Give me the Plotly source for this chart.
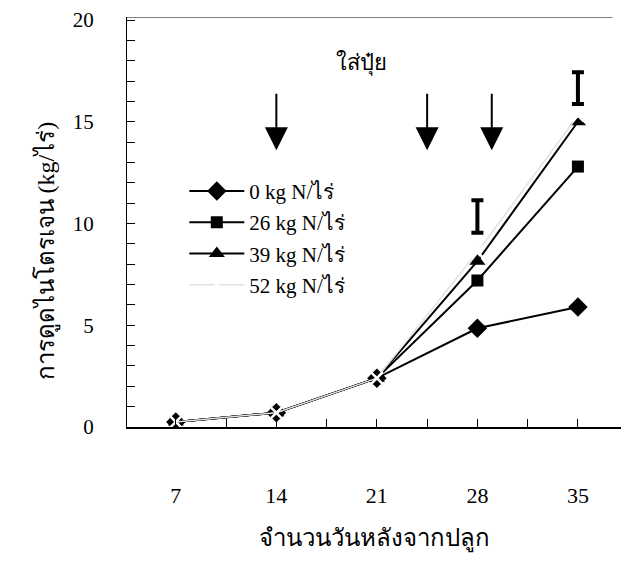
import plotly.graph_objects as go

days = [7, 14, 21, 28, 35]
n0 = [0.25, 0.7, 2.4, 4.85, 5.9]
n26 = [0.25, 0.7, 2.4, 7.2, 12.8]
n39 = [0.25, 0.7, 2.4, 8.15, 15.0]
n52 = [0.25, 0.7, 2.4, 8.6, 15.3]
names = ["0 kg N/ไร่", "26 kg N/ไร่", "39 kg N/ไร่", "52 kg N/ไร่"]

lsd_days = [28, 35]
lsd_center = [10.35, 16.65]
lsd_half = [0.8, 0.78]

fert_days = [14, 24.5, 29]
arrow_tip = 13.6
arrow_tail = 16.45

SERIF = "Liberation Serif"

fig = go.Figure()
fig.add_trace(go.Scatter(x=days, y=n0, name=names[0], legendgroup="a", mode="lines+markers",
                         line=dict(color="black", width=2),
                         marker=dict(symbol="diamond", size=15, color="black")))
fig.add_trace(go.Scatter(x=days, y=n26, name=names[1], legendgroup="b", mode="lines+markers",
                         line=dict(color="black", width=2),
                         marker=dict(symbol="square", size=12, color="black")))
fig.add_trace(go.Scatter(x=days, y=n39, name=names[2], legendgroup="c", mode="lines+markers",
                         line=dict(color="black", width=2),
                         marker=dict(symbol="triangle-up", size=14, color="black")))
fig.add_trace(go.Scatter(x=days, y=n52, name=names[3], legendgroup="d", mode="lines+markers",
                         line=dict(color="#e2e2e2", width=1.5),
                         marker=dict(symbol="x-thin", size=12, color="white",
                                     line=dict(color="white", width=2.5))))
fig.add_trace(go.Scatter(x=lsd_days, y=lsd_center, mode="markers", showlegend=False,
                         marker=dict(size=1, color="rgba(0,0,0,0)"),
                         error_y=dict(type="data", array=lsd_half, color="black",
                                      thickness=4, width=6)))

for d in fert_days:
    fig.add_annotation(x=d, y=arrow_tip, ax=d, ay=arrow_tail, xref="x", yref="y",
                       axref="x", ayref="y", showarrow=True, arrowhead=2,
                       arrowwidth=2, arrowsize=2.3, arrowcolor="black", text="")
fig.add_annotation(x=19.9, y=17.9, xref="x", yref="y", text="ใส่ปุ๋ย", showarrow=False,
                   font=dict(size=22, color="black"))
fig.add_annotation(x=-0.196, y=0.43, xref="paper", yref="paper", text="การดูดไนโตรเจน (kg/ไร่)",
                   textangle=-90, showarrow=False, font=dict(size=24, color="black"))

fig.add_shape(type="line", xref="x", yref="y", x0=3.6, x1=37.4, y0=20.15, y1=20.15,
              line=dict(color="black", width=1))

fig.update_layout(
    width=621, height=564,
    margin=dict(l=127, r=0, t=17, b=137),
    plot_bgcolor="white", paper_bgcolor="white",
    font=dict(family=SERIF, color="black", size=20),
    legend=dict(x=0.116, y=0.625, xanchor="left", yanchor="top",
                bgcolor="rgba(0,0,0,0)", font=dict(size=21, family=SERIF),
                traceorder="grouped", tracegroupgap=1, itemwidth=55),
    xaxis=dict(range=[3.6, 38], tickvals=days, ticks="inside", ticklen=8,
               tickcolor="black", showline=True, linecolor="black", linewidth=1.5,
               showgrid=False, zeroline=False, ticklabelstandoff=48,
               tickfont=dict(size=22, family=SERIF),
               minor=dict(tickvals=[10.5, 17.5, 24.5, 31.5], ticks="inside", ticklen=8,
                          tickcolor="black"),
               title=dict(text="จำนวนวันหลังจากปลูก", font=dict(size=24), standoff=22)),
    yaxis=dict(range=[0, 20.15], tickvals=[0, 5, 10, 15, 20], ticks="inside", ticklen=8,
               tickcolor="black", showline=True, linecolor="black", linewidth=1,
               showgrid=False, zeroline=False, ticklabelstandoff=28,
               tickfont=dict(size=21, family=SERIF),
               minor=dict(dtick=1, ticks="inside", ticklen=8, tickcolor="black")),
)

fig.write_html("out.html")
